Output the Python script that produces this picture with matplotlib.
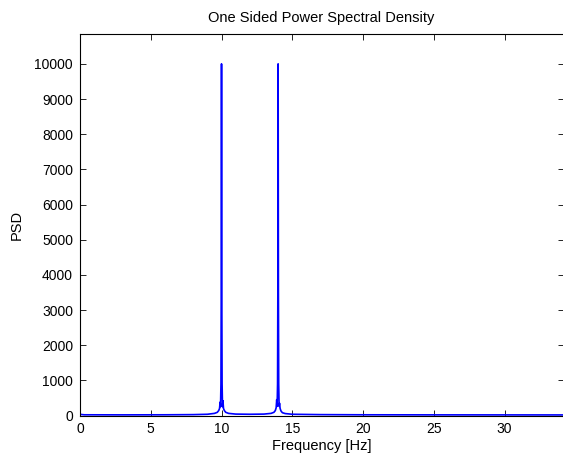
import matplotlib
matplotlib.use("Agg")
import matplotlib.pyplot as plt

# spectrum (Hz, PSD)
freq_hz = [0.0, 0.05, 0.3, 3.0, 6.0, 8.0, 9.0, 9.5, 9.7, 9.8, 9.86, 9.9, 9.93,
           9.96, 9.98, 10.0, 10.02, 10.04, 10.07, 10.1, 10.14, 10.2, 10.3, 10.5,
           11.0, 12.0, 13.0, 13.5, 13.7, 13.8, 13.86, 13.9, 13.93, 13.96, 13.98,
           14.0, 14.02, 14.04, 14.07, 14.1, 14.14, 14.2, 14.3, 14.5, 15.0, 17.0,
           20.0, 25.0, 30.0, 34.2]
psd = [60, 30, 20, 18, 20, 25, 35, 60, 90, 140, 200, 380, 250, 900, 3500,
       10000, 3500, 900, 250, 420, 200, 140, 90, 60, 40, 35, 40, 60, 90, 140,
       220, 450, 260, 900, 3500, 10000, 3500, 900, 260, 350, 200, 130, 80, 55,
       35, 25, 20, 18, 17, 16]

x_ticks = [0, 5, 10, 15, 20, 25, 30]
y_ticks = list(range(0, 10001, 1000))

plt.rcParams["font.family"] = ["Liberation Sans", "DejaVu Sans"]

W, H = 563, 458
fig = plt.figure(figsize=(W / 100, H / 100), dpi=100)
# axes box in pixels: left 80, top 34, bottom 415.5, right just past the edge
ax = fig.add_axes([80 / W, (H - 415.5) / H, 484 / W, 381.5 / H])

ax.plot(freq_hz, psd, color="#0000ff", linewidth=1.2)

ax.set_xlim(0, 34.2)
ax.set_ylim(0, 10850)
ax.set_xticks(x_ticks)
ax.set_yticks(y_ticks)
ax.tick_params(direction="in", length=4, width=0.6, top=True, right=True,
               labelsize=10, pad=5)
for side in ax.spines.values():
    side.set_linewidth(0.8)

ax.set_xlabel("Frequency [Hz]", fontsize=10.5, labelpad=2)
ax.set_ylabel("PSD", fontsize=10.5, labelpad=8)
fig.text(321 / W, 1 - 18 / H, "One Sided Power Spectral Density",
         ha="center", va="center", fontsize=10.5)

fig.savefig("out.png", dpi=100)
